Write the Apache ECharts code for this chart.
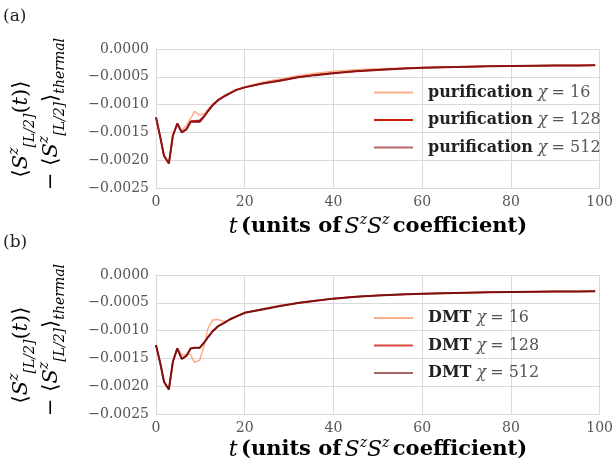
<!DOCTYPE html>
<html><head><meta charset="utf-8">
<script src="https://cdn.jsdelivr.net/npm/echarts@6/dist/echarts.min.js"></script>
<style>html,body{margin:0;padding:0;background:#fff}#c{width:616px;height:466px}</style>
</head><body><div id="c"></div>
<script>
// time samples
const times = [0,1,1.8,2.9,3.8,4.8,5.8,6.9,7.8,8.7,9.85,11,11.7,12.8,14,15.4,16.6,18,20,24,28,32,36,40,45,50,55,60,65,70,75,80,85,90,95,99];
// panel (a) purification
const purChi16  = [-0.00123,-0.00160,-0.00192,-0.00206,-0.00156,-0.00134,-0.00147,-0.00137,-0.00125,-0.00112,-0.00119,-0.00116,-0.00109,-0.00099,-0.00091,-0.00084,-0.00079,-0.00073,-0.00068,-0.00060,-0.00054,-0.00048,-0.000435,-0.000400,-0.000372,-0.000355,-0.000344,-0.000334,-0.000325,-0.000318,-0.000311,-0.000306,-0.000302,-0.000298,-0.000295,-0.000293];
const purChi128 = [-0.00123,-0.00160,-0.00192,-0.00206,-0.00156,-0.00134,-0.00150,-0.00144,-0.00130,-0.00129,-0.00128,-0.00119,-0.00111,-0.00100,-0.00092,-0.00085,-0.00080,-0.00074,-0.00069,-0.00062,-0.00056,-0.00051,-0.000465,-0.000430,-0.000398,-0.000373,-0.000352,-0.000337,-0.000326,-0.000318,-0.000311,-0.000306,-0.000302,-0.000298,-0.000295,-0.000293];
const purChi512 = [-0.00123,-0.00160,-0.00192,-0.00206,-0.00156,-0.00134,-0.00150,-0.00144,-0.00131,-0.00131,-0.00131,-0.00120,-0.00112,-0.00101,-0.00092,-0.00085,-0.00080,-0.00074,-0.00069,-0.00062,-0.00057,-0.00051,-0.000470,-0.000435,-0.000402,-0.000376,-0.000354,-0.000338,-0.000327,-0.000318,-0.000311,-0.000306,-0.000302,-0.000298,-0.000295,-0.000293];
// panel (b) DMT
const dmtChi16  = [-0.00126,-0.00160,-0.00192,-0.00206,-0.00156,-0.00132,-0.00144,-0.00143,-0.00143,-0.00157,-0.00153,-0.00123,-0.00096,-0.00081,-0.00080,-0.00084,-0.00081,-0.00075,-0.00068,-0.00061,-0.00055,-0.000500,-0.000458,-0.000422,-0.000390,-0.000366,-0.000349,-0.000336,-0.000326,-0.000318,-0.000311,-0.000306,-0.000302,-0.000298,-0.000295,-0.000293];
const dmtChi128 = [-0.00126,-0.00160,-0.00192,-0.00206,-0.00156,-0.00132,-0.00151,-0.00145,-0.00132,-0.00131,-0.00131,-0.00120,-0.00112,-0.00100,-0.00092,-0.00086,-0.00080,-0.00075,-0.00068,-0.00061,-0.00055,-0.000503,-0.000461,-0.000424,-0.000392,-0.000368,-0.000350,-0.000336,-0.000326,-0.000318,-0.000311,-0.000306,-0.000302,-0.000298,-0.000295,-0.000293];
const dmtChi512 = [-0.00126,-0.00160,-0.00192,-0.00206,-0.00156,-0.00132,-0.00151,-0.00145,-0.00132,-0.00131,-0.00131,-0.00120,-0.00112,-0.00101,-0.00092,-0.00086,-0.00080,-0.00075,-0.00068,-0.00062,-0.00056,-0.000505,-0.000462,-0.000425,-0.000393,-0.000369,-0.000350,-0.000336,-0.000326,-0.000318,-0.000311,-0.000306,-0.000302,-0.000298,-0.000295,-0.000293];
const chiValues = ['16','128','512'];
const methods = ['purification','DMT'];
const xTicks = {min:0, max:100, interval:20};
const yTicks = {min:-0.0025, max:0, interval:0.0005};

const serif = 'DejaVu Serif';
const txt = '#222';
const gridCol = '#d9d9d9';
const colsA = ['#fbae8a','#c81e0c','#8e1414'];
const colsB = ['#fbae8a','#d8473a','#7d0f0f'];
const widths = [1.5,1.5,2];

const pair = arr => arr.map((v,i)=>[times[i],v]);
const seriesA = [purChi16,purChi128,purChi512];
const seriesB = [dmtChi16,dmtChi128,dmtChi512];

function mkSeries(data, m, gi, cols){
  return data.map((d,k)=>({
    type:'line', name: methods[m]+' χ = '+chiValues[k], xAxisIndex:gi, yAxisIndex:gi,
    data: pair(d), symbol:'none', smooth:false, z: 2+k,
    lineStyle:{color:cols[k], width:widths[k]}, itemStyle:{color:cols[k]}
  }));
}
const rich = {
  b:{fontFamily:serif, fontWeight:'bold', fontSize:16, color:txt, lineHeight:18, padding:[0,0,0,10]},
  i:{fontFamily:serif, fontStyle:'italic', fontSize:16, color:'#555', lineHeight:18, padding:[0,0,0,5]},
  n:{fontFamily:serif, fontSize:16, color:'#555', lineHeight:18, padding:[0,0,0,4]}
};
function mkLegend(m, top, cols){
  return {
    orient:'vertical', left:374, top:top, padding:0, itemGap:9.5, itemWidth:39, itemHeight:2, icon:'rect',
    data: chiValues.map((c,k)=>({name: methods[m]+' χ = '+c, itemStyle:{color:cols[k], opacity: k===2?0.65:1}})),
    formatter: name => { const c = name.split('= ')[1]; return '{b|'+methods[m]+'}{i|χ}{n|= '+c+'}'; },
    textStyle:{rich:rich, lineHeight:18}
  };
}
function xAx(gi){
  return {type:'value', gridIndex:gi, min:xTicks.min, max:xTicks.max, interval:xTicks.interval,
    axisLine:{show:true, lineStyle:{color:gridCol}}, axisTick:{show:false},
    splitLine:{show:true, lineStyle:{color:gridCol, width:1}},
    axisLabel:{fontFamily:serif, fontSize:14, color:'#555', margin:7}};
}
function yAx(gi){
  return {type:'value', gridIndex:gi, min:yTicks.min, max:yTicks.max, interval:yTicks.interval,
    axisLine:{show:true, lineStyle:{color:gridCol}}, axisTick:{show:false},
    splitLine:{show:true, lineStyle:{color:gridCol, width:1}},
    axisLabel:{fontFamily:serif, fontSize:14, color:'#555', margin:7,
      formatter: v => Math.abs(v)<1e-12 ? '0.0000' : '\u2212'+Math.abs(v).toFixed(4)}};
}
const mrich = {
  m:{fontFamily:serif, fontSize:21, color:txt, lineHeight:30},
  mi:{fontFamily:serif, fontSize:21, fontStyle:'italic', color:txt, lineHeight:30},
  sup:{fontFamily:serif, fontSize:14, fontStyle:'italic', color:txt, lineHeight:30, verticalAlign:'top'},
  sub:{fontFamily:serif, fontSize:14, fontStyle:'italic', color:txt, lineHeight:30, verticalAlign:'bottom'}
};
const xrich = {
  mi:{fontFamily:serif, fontSize:22, fontStyle:'italic', color:txt, lineHeight:28},
  sup:{fontFamily:serif, fontSize:14, fontStyle:'italic', color:txt, lineHeight:28, verticalAlign:'top'},
  b:{fontFamily:serif, fontSize:21, fontWeight:'bold', color:txt, lineHeight:28}
};
function yTitle(cy){
  return [
    {type:'text', x:22, y:cy+9, rotation:Math.PI/2, style:{text:'{m|⟨}{mi|S}{sup|z}{sub|[L/2]}{m|(}{mi|t}{m|)⟩}', rich:mrich, align:'center', verticalAlign:'middle'}},
    {type:'text', x:52, y:cy-6, rotation:Math.PI/2, style:{text:'{m|− ⟨}{mi|S}{sup|z}{sub|[L/2]}{m|⟩}{sub|thermal}', rich:mrich, align:'center', verticalAlign:'middle'}}
  ];
}
function xTitle(cy){
  return {type:'text', x:378, y:cy, style:{text:'{mi|t} {b|(units of} {mi|S}{sup|z}{mi|S}{sup|z} {b|coefficient)}', rich:xrich, align:'center', verticalAlign:'middle'}};
}
const chart = echarts.init(document.getElementById('c'), null, {renderer:'canvas'});
chart.setOption({
  animation:false, backgroundColor:'#fff',
  grid:[{left:156, top:49, width:447, height:139},{left:156, top:275, width:447, height:139}],
  xAxis:[xAx(0), xAx(1)], yAxis:[yAx(0), yAx(1)],
  legend:[mkLegend(0, 83.5, colsA), mkLegend(1, 309, colsB)],
  series:[...mkSeries(seriesA,0,0,colsA), ...mkSeries(seriesB,1,1,colsB)],
  graphic:[
    {type:'text', x:3, y:17, style:{text:'(a)', fontFamily:serif, fontSize:17, fill:txt, verticalAlign:'middle'}},
    {type:'text', x:3, y:243, style:{text:'(b)', fontFamily:serif, fontSize:17, fill:txt, verticalAlign:'middle'}},
    ...yTitle(120), ...yTitle(346), xTitle(227), xTitle(450)
  ]
});
</script></body></html>
